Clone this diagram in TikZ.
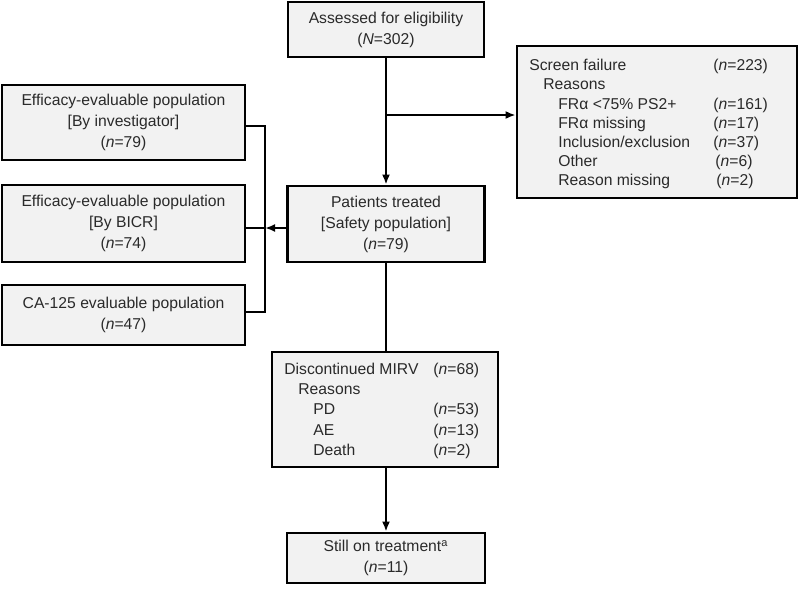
\documentclass[tikz,border=0pt]{standalone}
\usepackage{fontspec}
\setmainfont{Liberation Sans}
\usetikzlibrary{arrows.meta}
\definecolor{boxfill}{HTML}{F2F2F2}
\definecolor{txt}{HTML}{2A2A2A}
\begin{document}
\begin{tikzpicture}[x=0.5pt,y=-0.5pt,
  font=\fontsize{7.85}{10.5}\selectfont,
  box/.style={draw=black, line width=1.4pt, fill=boxfill, text=txt, align=center, inner sep=0pt},
  listtext/.style={anchor=north west, inner sep=0pt, text=txt},
  conn/.style={line width=1.1pt, draw=black},
  arr/.style={conn, -{Latex[length=5pt,width=4pt]}}]
\useasboundingbox (0,0) rectangle (800,590);

% main column
\node[box, minimum width=98pt, minimum height=27.5pt] (A) at (386,29.5)
  {Assessed for eligibility\\(\textit{N}=302)};
\node[box, minimum width=98.5pt, minimum height=38pt] (P) at (386,224)
  {Patients treated\\{}[Safety population]\\(\textit{n}=79)};
\node[box, minimum width=113pt, minimum height=57.5pt] (D) at (385,409.5) {};
\node[box, minimum width=99pt, minimum height=25pt] (T) at (386,558)
  {Still on treatment\textsuperscript{a}\\(\textit{n}=11)};

% screen failure
\node[box, minimum width=140pt, minimum height=76pt] (S) at (657,122) {};
\node[listtext] (St) at (529,57.1) {\fontsize{7.85}{9.55}\selectfont
  \begin{tabular}[t]{@{}l@{}l@{}}
  \makebox[92pt][l]{Screen failure} & (\textit{n}=223)\\
  \makebox[92pt][l]{\hspace{7pt}Reasons} & \\
  \makebox[92pt][l]{\hspace{14.5pt}FRα <75\% PS2+} & (\textit{n}=161)\\
  \makebox[92pt][l]{\hspace{14.5pt}FRα missing} & (\textit{n}=17)\\
  \makebox[92pt][l]{\hspace{14.5pt}Inclusion/exclusion} & (\textit{n}=37)\\
  \makebox[92pt][l]{\hspace{14.5pt}Other} & \hspace{1pt}(\textit{n}=6)\\
  \makebox[92pt][l]{\hspace{14.5pt}Reason missing} & \hspace{1.5pt}(\textit{n}=2)
  \end{tabular}};

% discontinued text
\node[listtext] (Dt) at (284,359.9) {\fontsize{7.85}{10.1}\selectfont
  \begin{tabular}[t]{@{}l@{}l@{}}
  \makebox[74.5pt][l]{Discontinued MIRV} & (\textit{n}=68)\\
  \makebox[74.5pt][l]{\hspace{7pt}Reasons} & \\
  \makebox[74.5pt][l]{\hspace{14.5pt}PD} & (\textit{n}=53)\\
  \makebox[74.5pt][l]{\hspace{14.5pt}AE} & (\textit{n}=13)\\
  \makebox[74.5pt][l]{\hspace{14.5pt}Death} & (\textit{n}=2)
  \end{tabular}};

% left column
\node[box, minimum width=121.5pt, minimum height=37.5pt] (E1) at (123.5,122.5)
  {Efficacy-evaluable population\\{}[By investigator]\\(\textit{n}=79)};
\node[box, minimum width=121.5pt, minimum height=38.5pt] (E2) at (123.5,223.5)
  {Efficacy-evaluable population\\{}[By BICR]\\(\textit{n}=74)};
\node[box, minimum width=121.5pt, minimum height=30pt] (E3) at (123.5,315)
  {CA-125 evaluable population\\(\textit{n}=47)};

% connectors
\coordinate (j1) at (386,115);
\coordinate (b1) at (265,126);
\coordinate (b2) at (265,228);
\coordinate (b3) at (265,312);

\draw[arr] (A.south) -- (A.south |- P.north);
\draw[arr] (j1) -- (j1 -| S.west);
\draw[arr] (b2 -| P.west) -- (b2);
\draw[conn] (b1 -| E1.east) -- (b1) -- (b3) -- (b3 -| E3.east);
\draw[conn] (b2) -- (b2 -| E2.east);
\draw[conn] (P.south) -- (P.south |- D.north);
\draw[arr] (D.south -| T.north) -- (T.north);
\end{tikzpicture}
\end{document}
